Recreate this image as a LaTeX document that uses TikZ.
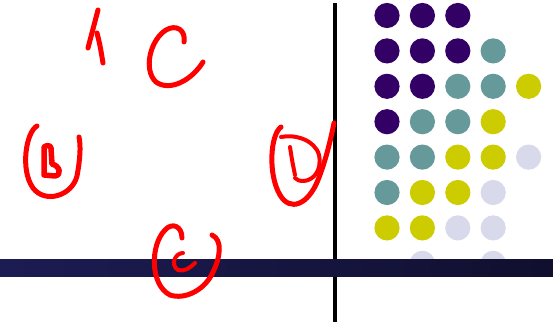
\documentclass[tikz,border=0pt]{standalone}
\usepackage{tikz}

\definecolor{dotpurple}{HTML}{330066}
\definecolor{dotteal}{HTML}{669999}
\definecolor{dotyellow}{HTML}{CCCC00}
\definecolor{dotlilac}{HTML}{D9D9EC}
\definecolor{barleft}{HTML}{1C1C54}
\definecolor{barright}{HTML}{110F2E}

\begin{document}
\begin{tikzpicture}[
  x=1pt, y=-1pt,
  %% ─── styles ─────────────────────────────────
  ink/.style={draw=red, line width=5pt, line cap=round, line join=round},
  inkthin/.style={draw=red, line width=4pt, line cap=round, line join=round},
  dot/.style={fill=#1, draw=none},
  divider/.style={draw=black, line width=3.3pt}
]
  \useasboundingbox (0,0) rectangle (553,324);

  %% ════════════════════════════════════════════════
  %%  dot grid (right panel)
  %% ════════════════════════════════════════════════
  \foreach \col/\row/\clr in {
      0/0/dotpurple, 1/0/dotpurple, 2/0/dotpurple,
      0/1/dotpurple, 1/1/dotpurple, 2/1/dotpurple, 3/1/dotteal,
      0/2/dotpurple, 1/2/dotpurple, 2/2/dotteal, 3/2/dotteal, 4/2/dotyellow,
      0/3/dotpurple, 1/3/dotteal, 2/3/dotteal, 3/3/dotyellow,
      0/4/dotteal, 1/4/dotteal, 2/4/dotyellow, 3/4/dotyellow, 4/4/dotlilac,
      0/5/dotteal, 1/5/dotyellow, 2/5/dotyellow, 3/5/dotlilac,
      0/6/dotyellow, 1/6/dotyellow, 2/6/dotlilac, 3/6/dotlilac,
      1/7/dotlilac, 3/7/dotlilac}
    \fill[dot=\clr] ({387+35.4*\col},{15.5+35.4*\row}) circle (12.6);

  %% ─── vertical divider and horizontal bar ─────────
  \draw[divider] (335,3) -- (335,322);
  \shade[left color=barleft, right color=barright] (0,259) rectangle (553,276);

  %% ════════════════════════════════════════════════
  %%  hand-written marks (left panel)
  %% ════════════════════════════════════════════════
  % "1"
  \draw[ink] (88,48) -- (98,10);
  \draw[ink] (97,33) .. controls (100,45) .. (103,63);

  % "C"
  \draw[ink] (184,42) .. controls (186,30) and (176,24) .. (166,30)
             .. controls (150,40) and (143,70) .. (156,82)
             .. controls (170,92) and (192,80) .. (203,62);

  % circled "B"
  \draw[ink] (37,126) .. controls (26,132) and (20,170) .. (33,188)
             .. controls (45,204) and (72,196) .. (77,176)
             .. controls (80,160) and (81,146) .. (79,137);
  \draw[ink, line width=5.5pt] (44,175) -- (44,147)
             .. controls (47,145) and (50,145) .. (51,148)
             -- (52,164)
             .. controls (60,166) and (62,175) .. (55,176)
             -- cycle;

  % circled "D"
  \draw[ink] (281,127) .. controls (270,135) and (268,175) .. (280,195)
             .. controls (290,212) and (308,205) .. (318,180)
             .. controls (326,160) and (331,138) .. (334,123);
  \draw[inkthin] (290,147) .. controls (292,160) .. (295,175);
  \draw[inkthin] (281,137) .. controls (295,134) and (315,140) .. (319,155)
             .. controls (322,170) and (314,180) .. (304,181)
             .. controls (299,181) and (297,180) .. (295,178);

  % circled "c"
  \draw[ink] (182,238) .. controls (182,226) and (172,222) .. (165,230)
             .. controls (150,245) and (150,285) .. (170,295)
             .. controls (185,300) and (205,290) .. (213,272)
             .. controls (220,258) and (223,240) .. (212,235);
  \draw[inkthin] (183,253) .. controls (175,253) and (170,265) .. (178,270)
             .. controls (184,272) and (190,268) .. (195,263);
\end{tikzpicture}
\end{document}
